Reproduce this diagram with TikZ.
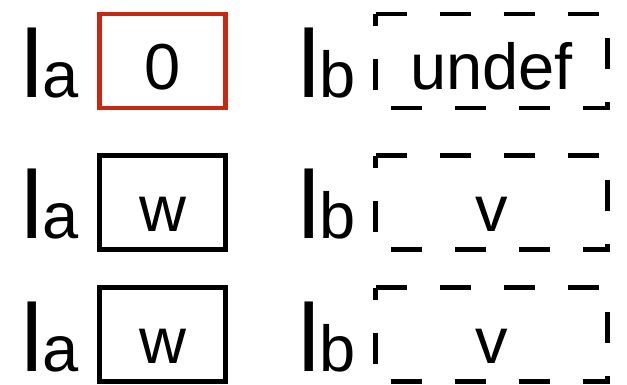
\documentclass[tikz,border=0pt]{standalone}
\usepackage{fontspec}
\setmainfont{Liberation Sans}
\definecolor{boxred}{RGB}{200,40,18}
\begin{document}
\begin{tikzpicture}[x=1pt,y=-1pt,
  lab/.style={anchor=base west,inner sep=0pt,outer sep=0pt},
  cell/.style={inner sep=0pt,outer sep=0pt,text height=57pt,text depth=0pt,
    font=\fontsize{65}{65}\selectfont},
  solidcell/.style={cell,draw,line width=4.5pt,minimum width=126pt,minimum height=94pt},
  dashcell/.style={cell,minimum width=232pt,minimum height=94pt},
  dashline/.style={line width=4.5pt,dash pattern=on 31pt off 33pt}]
\useasboundingbox (0,0) rectangle (627,384);
\newcommand{\lbl}[1]{{\fontsize{96}{96}\selectfont l}{\fontsize{65}{65}\selectfont #1}}
% row 1
\node[lab] (la1) at (21.5,97) {\lbl{a}};
\node[solidcell,draw=boxred] (a1) at (162.5,61) {0};
\node[lab] (lb1) at (298.6,97) {\lbl{b}};
\node[dashcell] (b1) at (491.5,61) {undef};
% row 2
\node[lab] (la2) at (21.5,238) {\lbl{a}};
\node[solidcell] (a2) at (162.5,202.5) {w};
\node[lab] (lb2) at (298.6,238) {\lbl{b}};
\node[dashcell] (b2) at (491.5,202.5) {v};
% row 3
\node[lab] (la3) at (21.5,371) {\lbl{a}};
\node[solidcell] (a3) at (162.5,334.5) {w};
\node[lab] (lb3) at (298.6,371) {\lbl{b}};
\node[dashcell] (b3) at (491.5,334.5) {v};
\foreach \n in {b1,b2,b3}
  \draw[dashline] (\n.north west) -- (\n.north east) -- (\n.south east) -- (\n.south west) -- cycle;
\end{tikzpicture}
\end{document}
